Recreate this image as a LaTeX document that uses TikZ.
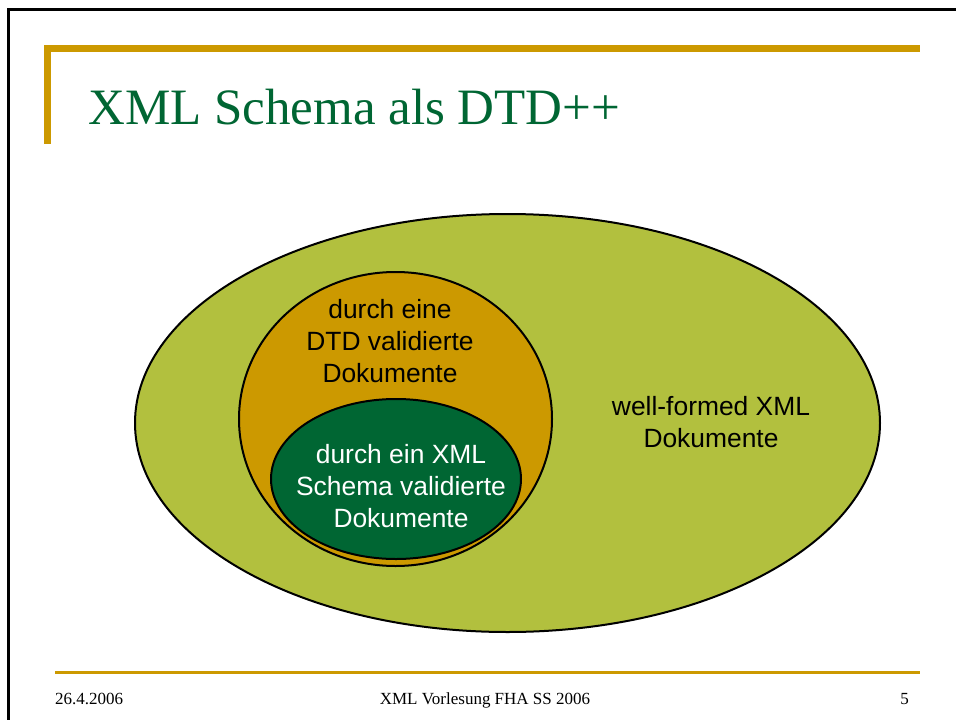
\documentclass[tikz,border=0pt]{standalone}
\usepackage{fontspec}
\newfontfamily\titlefont{Liberation Serif}
\newfontfamily\bodyfont{Liberation Sans}
\usetikzlibrary{shapes.geometric}
\definecolor{gold}{HTML}{CC9900}
\definecolor{olivefill}{HTML}{B2C03E}
\definecolor{darkgreen}{HTML}{006633}
\tikzset{
  blob/.style={shape=ellipse, draw=black, line width=2pt, inner sep=0pt},
  bodytext/.style={font=\bodyfont\fontsize{26.4}{31.7}\selectfont, align=center, anchor=base},
  foot/.style={font=\titlefont\fontsize{17}{20}\selectfont, anchor=base}
}
\begin{document}
\begin{tikzpicture}[x=1pt,y=-1pt]
\useasboundingbox (0,0) rectangle (956,720);
\fill[white] (0,0) rectangle (956,720);
% slide frame
\draw[line width=3pt] (8.5,720) -- (8.5,9.5) -- (956,9.5);
% gold bars
\fill[gold] (44,44.5) rectangle (920,51.5);
\fill[gold] (44,44.5) rectangle (51,144);
\fill[gold] (55,670.5) rectangle (920,674);
% title
\node[anchor=base west, inner sep=0pt, text=darkgreen,
      font=\titlefont\fontsize{51}{60}\selectfont] (title) at (88,124) {XML Schema als DTD++};
% ellipses
\node[blob, fill=olivefill, minimum width=745pt, minimum height=418pt] (wf) at (507.5,423) {};
\node[blob, fill=gold, minimum width=313pt, minimum height=294pt] (dtd) at (395.5,419) {};
\node[blob, fill=darkgreen, minimum width=250pt, minimum height=160pt] (xsd) at (396,479) {};
% texts (base anchor = baseline of last line)
\node[bodytext] (wftext) at (711,447) {well-formed XML\\Dokumente};
\node[bodytext] (dtdtext) at (390,382) {durch eine\\DTD validierte\\Dokumente};
\node[bodytext, text=white] (xsdtext) at (401,527) {durch ein XML\\Schema validierte\\Dokumente};
% footer
\node[foot, anchor=base west, inner sep=0pt] (date) at (55,704) {26.4.2006};
\node[foot, inner sep=0pt] (course) at (485,704) {XML Vorlesung FHA SS 2006};
\node[foot, anchor=base east, inner sep=0pt] (page) at (909,704) {5};
\end{tikzpicture}
\end{document}
